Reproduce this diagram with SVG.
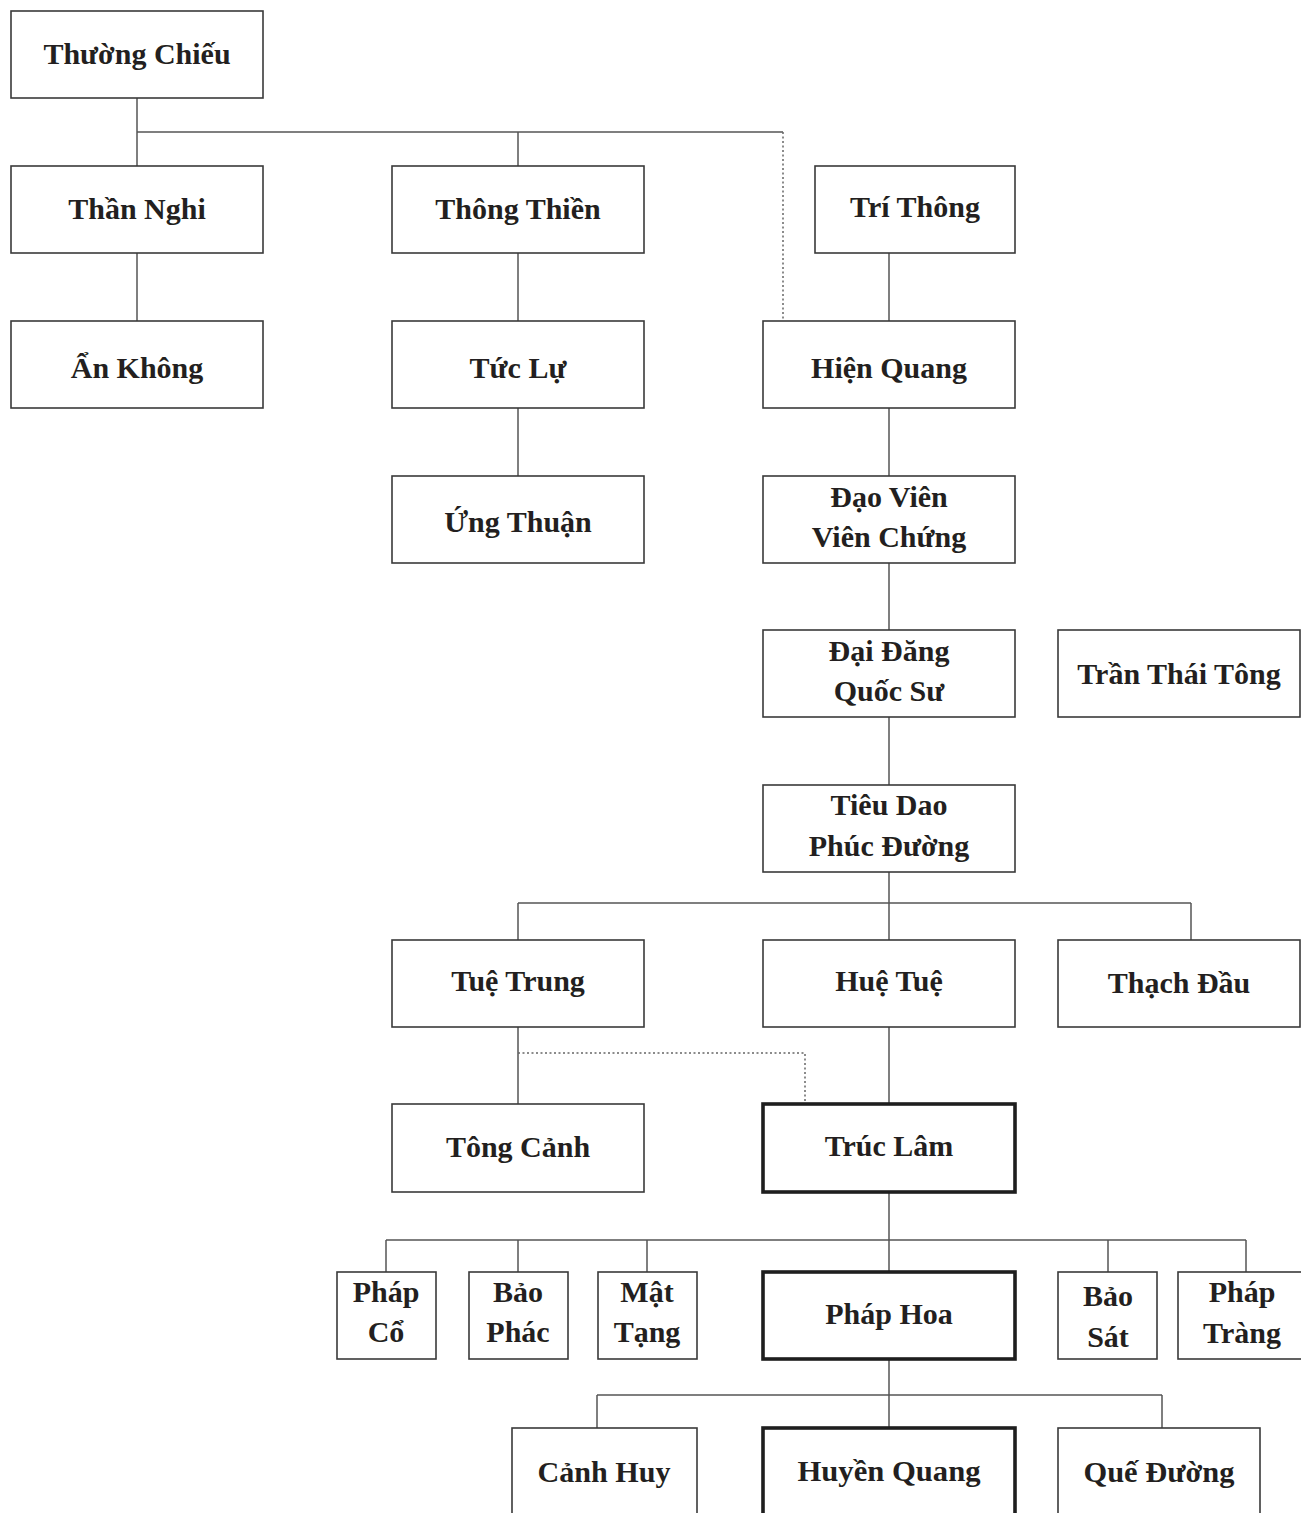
<svg xmlns="http://www.w3.org/2000/svg" width="1301" height="1513" viewBox="0 0 1301 1513">
<style>
.b{fill:#fff;stroke:#3a3a3a;stroke-width:1.6}
.k{fill:#fff;stroke:#1e1e1e;stroke-width:3.6}
.t{font-family:"Liberation Serif","Times New Roman",serif;font-weight:bold;font-size:30px;fill:#231f20;text-anchor:middle}
.c{fill:none;stroke:#555;stroke-width:1.5}
.d{fill:none;stroke:#666;stroke-width:1.5;stroke-dasharray:2 2.5}
</style>
<rect width="1301" height="1513" fill="#fff"/>
<g id="connectors">
<path class="c" d="M137 98V166M137 132H783M518 132V166M137 253V321M518 253V321M518 408V476M889 253V321M889 408V476M889 563V630M889 717V785M889 872V940M518 903H1191M518 903V940M1191 903V940M518 1027V1104M889 1027V1104M889 1192V1272M386 1240H1246M386 1240V1272M518 1240V1272M647 1240V1272M1108 1240V1272M1246 1240V1272M889 1359V1428M597 1395H1162M597 1395V1428M1162 1395V1428"/>
<path class="d" d="M783 132V321M518 1053H805V1104"/>
</g>
<g id="n1"><rect class="b" x="11" y="11" width="252" height="87"/><text class="t" x="137" y="64">Thường Chiếu</text></g>
<g id="n2"><rect class="b" x="11" y="166" width="252" height="87"/><text class="t" x="137" y="219">Thần Nghi</text></g>
<g id="n3"><rect class="b" x="392" y="166" width="252" height="87"/><text class="t" x="518" y="219">Thông Thiền</text></g>
<g id="n4"><rect class="b" x="815" y="166" width="200" height="87"/><text class="t" x="915" y="217">Trí Thông</text></g>
<g id="n5"><rect class="b" x="11" y="321" width="252" height="87"/><text class="t" x="137" y="378">Ẩn Không</text></g>
<g id="n6"><rect class="b" x="392" y="321" width="252" height="87"/><text class="t" x="518" y="378">Tức Lự</text></g>
<g id="n7"><rect class="b" x="763" y="321" width="252" height="87"/><text class="t" x="889" y="378">Hiện Quang</text></g>
<g id="n8"><rect class="b" x="392" y="476" width="252" height="87"/><text class="t" x="518" y="532">Ứng Thuận</text></g>
<g id="n9"><rect class="b" x="763" y="476" width="252" height="87"/><text class="t" x="889" y="507">Đạo Viên</text><text class="t" x="889" y="547">Viên Chứng</text></g>
<g id="n10"><rect class="b" x="763" y="630" width="252" height="87"/><text class="t" x="889" y="661">Đại Đăng</text><text class="t" x="889" y="701">Quốc Sư</text></g>
<g id="n11"><rect class="b" x="1058" y="630" width="242" height="87"/><text class="t" x="1179" y="684">Trần Thái Tông</text></g>
<g id="n12"><rect class="b" x="763" y="785" width="252" height="87"/><text class="t" x="889" y="815">Tiêu Dao</text><text class="t" x="889" y="856">Phúc Đường</text></g>
<g id="n13"><rect class="b" x="392" y="940" width="252" height="87"/><text class="t" x="518" y="991">Tuệ Trung</text></g>
<g id="n14"><rect class="b" x="763" y="940" width="252" height="87"/><text class="t" x="889" y="991">Huệ Tuệ</text></g>
<g id="n15"><rect class="b" x="1058" y="940" width="242" height="87"/><text class="t" x="1179" y="993">Thạch Đầu</text></g>
<g id="n16"><rect class="b" x="392" y="1104" width="252" height="88"/><text class="t" x="518" y="1157">Tông Cảnh</text></g>
<g id="n17"><rect class="k" x="763" y="1104" width="252" height="88"/><text class="t" x="889" y="1156">Trúc Lâm</text></g>
<g id="n18"><rect class="b" x="337" y="1272" width="99" height="87"/><text class="t" x="386" y="1302">Pháp</text><text class="t" x="386" y="1342">Cổ</text></g>
<g id="n19"><rect class="b" x="469" y="1272" width="99" height="87"/><text class="t" x="518" y="1302">Bảo</text><text class="t" x="518" y="1342">Phác</text></g>
<g id="n20"><rect class="b" x="598" y="1272" width="99" height="87"/><text class="t" x="647" y="1302">Mật</text><text class="t" x="647" y="1342">Tạng</text></g>
<g id="n21"><rect class="k" x="763" y="1272" width="252" height="87"/><text class="t" x="889" y="1324">Pháp Hoa</text></g>
<g id="n22"><rect class="b" x="1058" y="1272" width="99" height="87"/><text class="t" x="1108" y="1306">Bảo</text><text class="t" x="1108" y="1347">Sát</text></g>
<g id="n23"><rect class="b" x="1178" y="1272" width="130" height="87"/><text class="t" x="1242" y="1302">Pháp</text><text class="t" x="1242" y="1343">Tràng</text></g>
<g id="n24"><rect class="b" x="512" y="1428" width="185" height="100"/><text class="t" x="604" y="1482" textLength="133" lengthAdjust="spacingAndGlyphs">Cảnh Huy</text></g>
<g id="n25"><rect class="k" x="763" y="1428" width="252" height="100"/><text class="t" x="889" y="1481" textLength="183" lengthAdjust="spacingAndGlyphs">Huyền Quang</text></g>
<g id="n26"><rect class="b" x="1058" y="1428" width="202" height="100"/><text class="t" x="1159" y="1482" textLength="151" lengthAdjust="spacingAndGlyphs">Quế Đường</text></g>
</svg>
